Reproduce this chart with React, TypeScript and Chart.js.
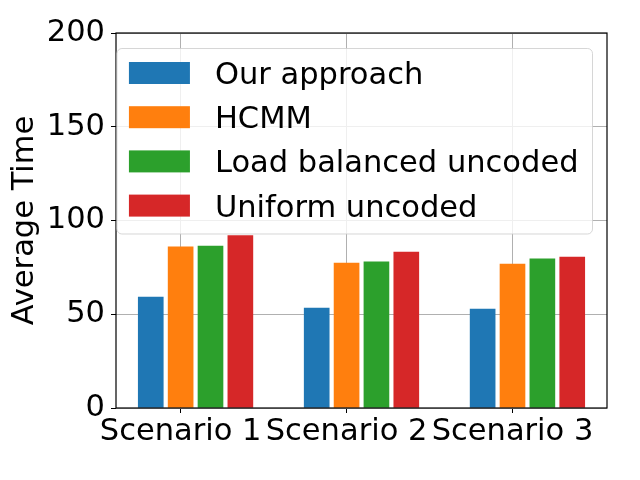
import React, { useEffect, useRef } from "react";
import { Chart, registerables } from "chart.js";

Chart.register(...registerables);

const categories = ["Scenario 1", "Scenario 2", "Scenario 3"];
const seriesNames = ["Our approach", "HCMM", "Load balanced uncoded", "Uniform uncoded"];
const ourApproach = [59.2, 53.3, 52.8];
const hcmm = [85.9, 77.3, 76.8];
const loadBalanced = [86.4, 77.9, 79.5];
const uniformUncoded = [91.9, 83.2, 80.5];
const yTicks = [0, 50, 100, 150, 200];
const yTitle = "Average Time";

const seriesValues = [ourApproach, hcmm, loadBalanced, uniformUncoded];
const colors = ["#1f77b4", "#ff7f0e", "#2ca02c", "#d62728"];
const barOffsets = [-0.18, 0, 0.18, 0.36];
const FONT = "'DejaVu Sans', sans-serif";
const FS = 30.5;

const overlayPlugin = {
  id: "overlay",
  afterDatasetsDraw(chart: any) {
    const { ctx, chartArea: a } = chart;
    ctx.save();
    ctx.strokeStyle = "#000";
    ctx.lineWidth = 1.2;
    ctx.strokeRect(a.left, a.top, a.right - a.left, a.bottom - a.top);
    ctx.restore();
  },
  afterDraw(chart: any) {
    const { ctx, chartArea: a } = chart;
    ctx.save();
    ctx.font = `${FS}px ${FONT}`;
    let maxW = 0;
    seriesNames.forEach((n) => {
      maxW = Math.max(maxW, ctx.measureText(n).width);
    });
    const right = a.right - 14.5;
    const top = a.top + 15.5;
    const width = 98 + maxW + 14;
    const left = right - width;
    const height = 185.5;
    ctx.beginPath();
    (ctx as any).roundRect(left, top, width, height, 5);
    ctx.fillStyle = "rgba(255,255,255,0.8)";
    ctx.fill();
    ctx.strokeStyle = "rgba(204,204,204,0.8)";
    ctx.lineWidth = 1;
    ctx.stroke();
    seriesNames.forEach((n, i) => {
      const cy = top + 24.5 + i * 44.2;
      ctx.fillStyle = colors[i];
      ctx.fillRect(left + 12, cy - 11, 61, 22);
      ctx.fillStyle = "#000";
      ctx.textBaseline = "alphabetic";
      ctx.textAlign = "left";
      ctx.fillText(n, left + 98, cy + 11);
    });
    ctx.restore();
  },
};

export default function App() {
  const ref = useRef<HTMLCanvasElement>(null);
  useEffect(() => {
    if (!ref.current) return;
    const chart = new Chart(ref.current, {
      type: "bar",
      data: {
        datasets: seriesNames.map((name, s) => ({
          label: name,
          data: seriesValues[s].map((y, i) => ({ x: i + barOffsets[s], y })),
          backgroundColor: colors[s],
          barThickness: 25,
          grouped: false,
          borderWidth: 0,
        })),
      },
      options: {
        animation: false,
        responsive: false,
        devicePixelRatio: 1,
        layout: { padding: { top: 33, right: 33, left: 0, bottom: 0 } },
        plugins: {
          legend: { display: false },
          tooltip: { enabled: false },
        },
        scales: {
          x: {
            type: "linear",
            min: -0.3895,
            max: 2.5695,
            offset: false,
            afterBuildTicks: (s: any) => {
              s.ticks = categories.map((_, i) => ({ value: i }));
            },
            afterFit: (s: any) => {
              s.height = 72;
            },
            ticks: {
              autoSkip: false,
              maxRotation: 0,
              minRotation: 0,
              padding: 1,
              color: "#000",
              font: { family: FONT, size: FS },
              callback: (_v: any, i: number) => categories[i],
            },
            grid: { color: "#b0b0b0", lineWidth: 1, tickColor: "#000", tickLength: 5, offset: false },
            border: { display: false },
          },
          y: {
            type: "linear",
            min: 0,
            max: 200,
            afterBuildTicks: (s: any) => {
              s.ticks = yTicks.map((v) => ({ value: v }));
            },
            afterFit: (s: any) => {
              s.width = 116;
            },
            ticks: {
              padding: 6,
              color: "#000",
              font: { family: FONT, size: FS },
            },
            title: {
              display: true,
              text: yTitle,
              color: "#000",
              font: { family: FONT, size: FS },
              padding: { top: 7, bottom: 0 },
            },
            grid: { color: "#b0b0b0", lineWidth: 1, tickColor: "#000", tickLength: 5 },
            border: { display: false },
          },
        },
      } as any,
      plugins: [overlayPlugin],
    });
    return () => chart.destroy();
  }, []);
  return (
    <div style={{ position: "fixed", left: 0, top: 0, width: 640, height: 480, background: "#fff" }}>
      <canvas ref={ref} width={640} height={480} />
    </div>
  );
}
